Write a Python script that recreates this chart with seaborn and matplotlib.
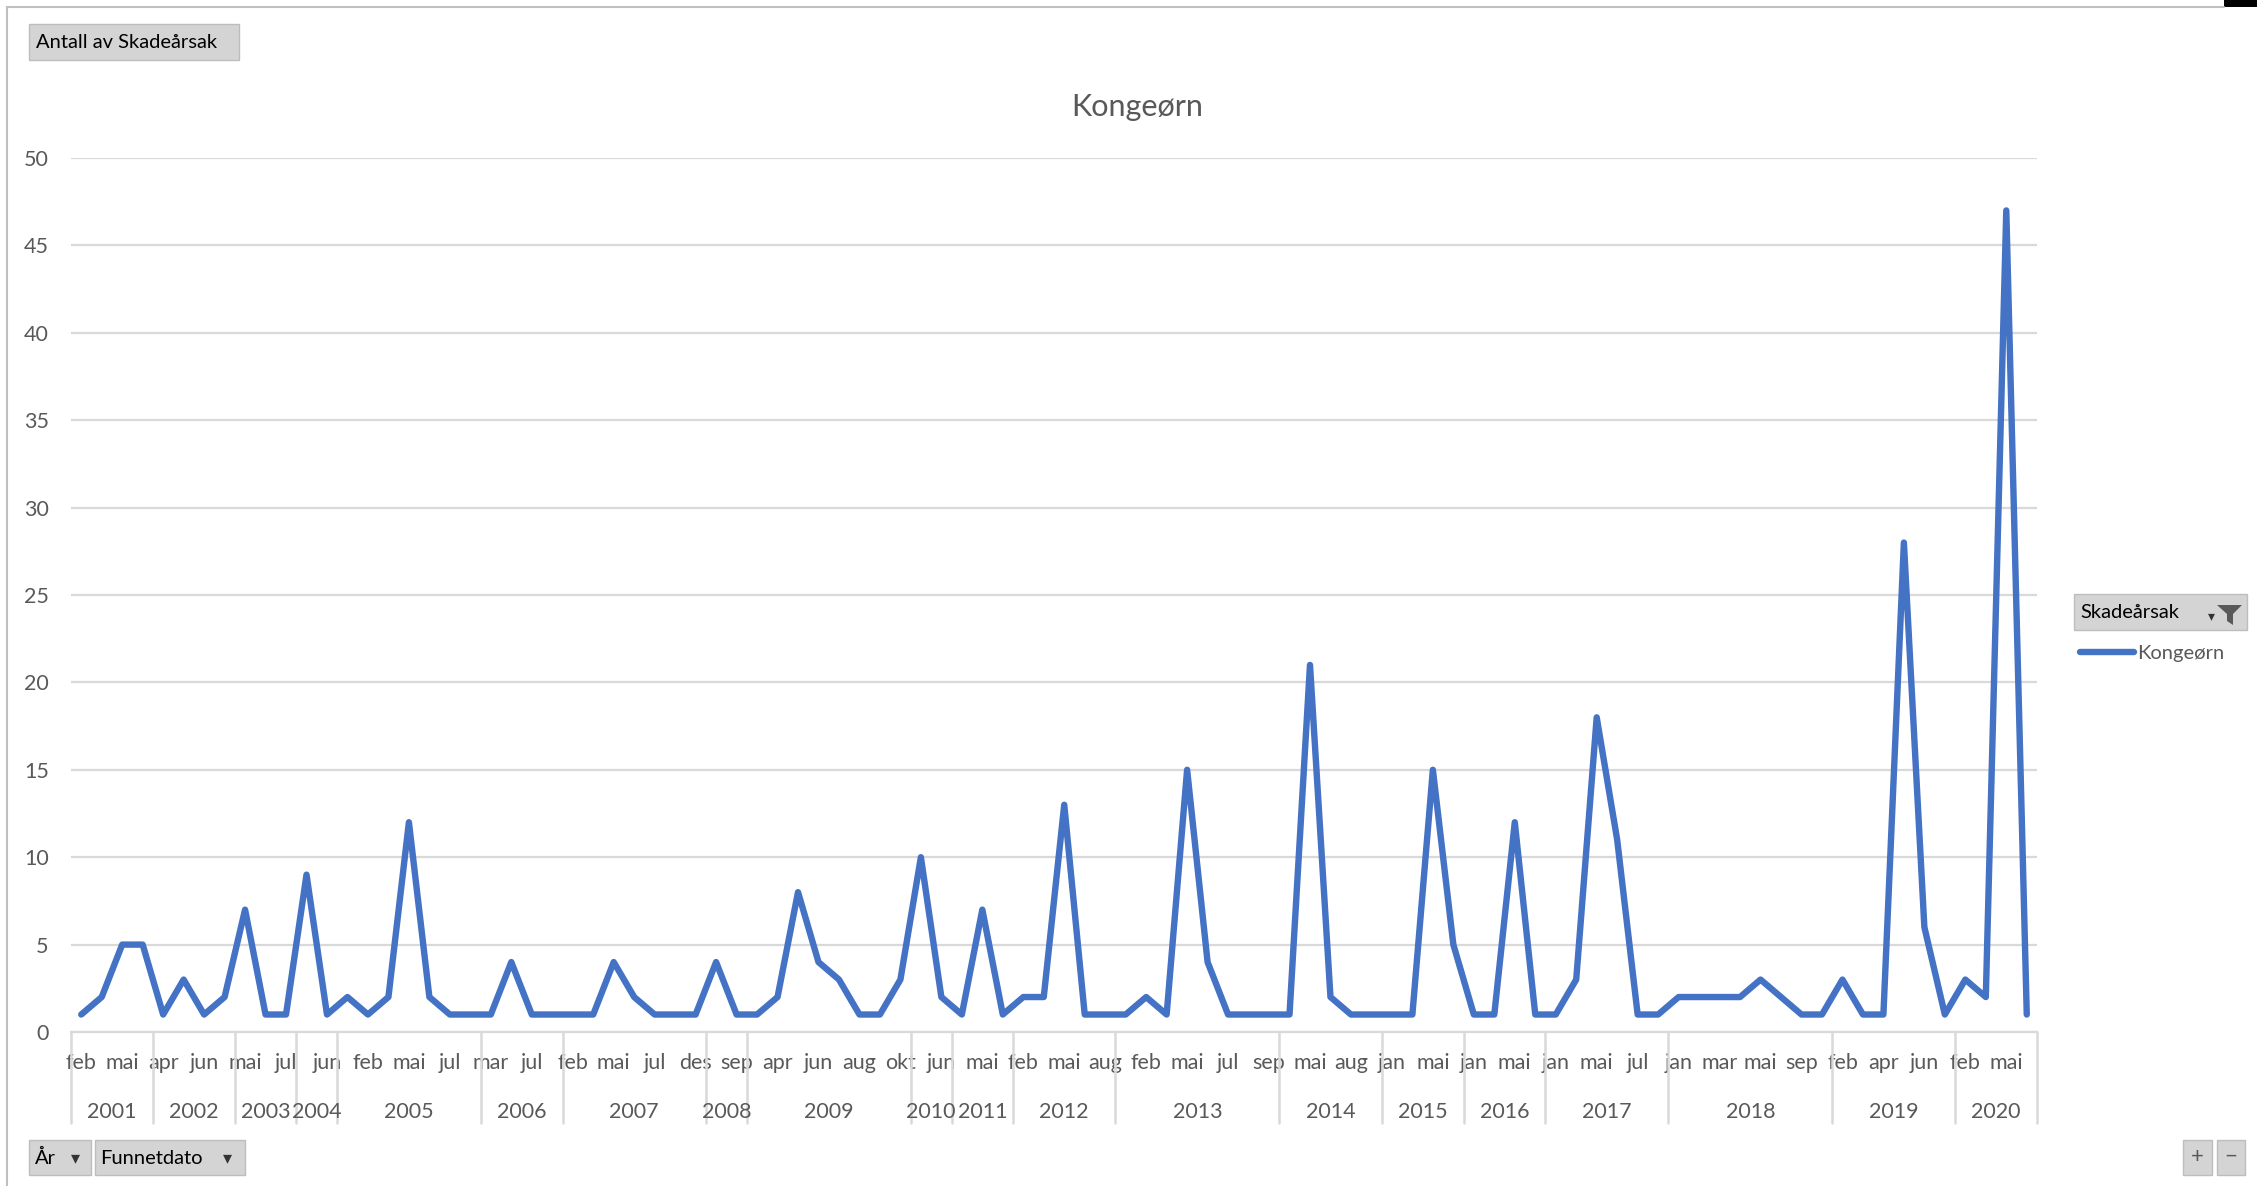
import numpy as np
import pandas as pd
import matplotlib
matplotlib.use("Agg")
import matplotlib.pyplot as plt
import matplotlib.transforms as mtransforms
from matplotlib.patches import Rectangle, Polygon
from matplotlib.lines import Line2D
import seaborn as sns

# ---------------- data ----------------
years = ["2001", "2002", "2003", "2004", "2005", "2006", "2007", "2008", "2009", "2010",
         "2011", "2012", "2013", "2014", "2015", "2016", "2017", "2018", "2019", "2020"]
year_sizes = [4, 4, 3, 2, 7, 4, 7, 2, 8, 2, 3, 5, 8, 5, 4, 4, 6, 8, 6, 4]
months = [
    "feb", "apr", "mai", "jul",                          # 2001
    "apr", "mai", "jun", "aug",                          # 2002
    "mai", "jun", "jul",                                 # 2003
    "mai", "jun",                                        # 2004
    "jan", "feb", "apr", "mai", "jun", "jul", "sep",     # 2005
    "mar", "mai", "jul", "okt",                          # 2006
    "feb", "apr", "mai", "jun", "jul", "okt", "des",     # 2007
    "apr", "sep",                                        # 2008
    "mar", "apr", "mai", "jun", "jul", "aug", "sep", "okt",  # 2009
    "mai", "jun",                                        # 2010
    "apr", "mai", "jun",                                 # 2011
    "feb", "apr", "mai", "jun", "aug",                   # 2012
    "jan", "feb", "apr", "mai", "jun", "jul", "aug", "sep",  # 2013
    "apr", "mai", "jun", "aug", "sep",                   # 2014
    "jan", "apr", "mai", "jun",                          # 2015
    "jan", "apr", "mai", "jun",                          # 2016
    "jan", "apr", "mai", "jun", "jul", "aug",            # 2017
    "jan", "feb", "mar", "apr", "mai", "jul", "sep", "okt",  # 2018
    "feb", "mar", "apr", "mai", "jun", "jul",            # 2019
    "feb", "apr", "mai", "jun",                          # 2020
]
counts = [
    1, 2, 5, 5,
    1, 3, 1, 2,
    7, 1, 1,
    9, 1,
    2, 1, 2, 12, 2, 1, 1,
    1, 4, 1, 1,
    1, 1, 4, 2, 1, 1, 1,
    4, 1,
    1, 2, 8, 4, 3, 1, 1, 3,
    10, 2,
    1, 7, 1,
    2, 2, 13, 1, 1,
    1, 2, 1, 15, 4, 1, 1, 1,
    1, 21, 2, 1, 1,
    1, 1, 15, 5,
    1, 1, 12, 1,
    1, 3, 18, 11, 1, 1,
    2, 2, 2, 2, 3, 2, 1, 1,
    3, 1, 1, 28, 6, 1,
    3, 2, 47, 1,
]
series_name = "Kongeørn"
title = "Kongeørn"
y_ticks = [0, 5, 10, 15, 20, 25, 30, 35, 40, 45, 50]

# ---------------- style ----------------
sns.set_theme(style="white")
plt.rcParams["font.family"] = ["Lato", "DejaVu Sans"]

W, H = 2257, 1186
fig = plt.figure(figsize=(W / 100, H / 100), dpi=100)
fig.patch.set_facecolor("white")

def fx(px):
    return px / W

def fy(py):
    return 1 - py / H

ax_left, ax_right, ax_top, ax_bottom = 71, 2037, 158, 1032
ax = fig.add_axes([fx(ax_left), fy(ax_bottom), (ax_right - ax_left) / W, (ax_bottom - ax_top) / H])

n = len(counts)
df = pd.DataFrame({"pos": np.arange(n), "Antall": counts})
sns.lineplot(data=df, x="pos", y="Antall", color="#4472C4", linewidth=4.6,
             label=series_name, ax=ax, solid_joinstyle="round", solid_capstyle="round")

grid_col = "#D9D9D9"
text_col = "#595959"
ax.set_xlim(-0.5, n - 0.5)
ax.set_ylim(0, 50)
ax.set_yticks(y_ticks)
ax.yaxis.grid(True, color=grid_col, linewidth=1.6)
ax.xaxis.grid(False)
for side in ["top", "right", "left"]:
    ax.spines[side].set_visible(False)
ax.spines["bottom"].set_color(grid_col)
ax.spines["bottom"].set_linewidth(1.6)
ax.set_xlabel("")
ax.set_ylabel("")
ax.tick_params(axis="y", length=0, pad=16, labelsize=15.5, labelcolor=text_col)

# month labels every second category
tick_pos = list(range(0, n, 2))
ax.set_xticks(tick_pos)
ax.set_xticklabels([months[i] for i in tick_pos])
ax.tick_params(axis="x", length=0, pad=15, labelsize=15.5, labelcolor=text_col)

# year labels and separators
blend = mtransforms.blended_transform_factory(ax.transData, ax.transAxes)
bounds = np.concatenate([[0], np.cumsum(year_sizes)]) - 0.5
for b in bounds:
    ax.plot([b, b], [0, -0.104], transform=blend, clip_on=False, color=grid_col, linewidth=1.8)
for i, yr in enumerate(years):
    c = (bounds[i] + bounds[i + 1]) / 2
    ax.text(c, -0.0915, yr, transform=blend, ha="center", va="center", fontsize=15.5, color=text_col)

# legend
leg = ax.legend(loc="center left", bbox_to_anchor=(fx(2080), fy(653)), bbox_transform=fig.transFigure,
                frameon=False, handlelength=2.7, handletextpad=0.15, borderpad=0, borderaxespad=0,
                fontsize=14.5)
for t in leg.get_texts():
    t.set_color(text_col)

# title
fig.text(fx(1137), fy(107), title, ha="center", va="center", fontsize=22, color=text_col)

# ---------------- pivot buttons ----------------
def button(x0, y0, x1, y1):
    fig.add_artist(Rectangle((fx(x0), fy(y1)), (x1 - x0) / W, (y1 - y0) / H, transform=fig.transFigure,
                             facecolor="#D4D4D4", edgecolor="#BDBDBD", linewidth=1.0))

button(29, 24, 239, 60)
fig.text(fx(36), fy(43), "Antall av Skadeårsak", ha="left", va="center", fontsize=14.5, color="black")

button(29, 1140, 91, 1175)
fig.text(fx(35), fy(1158), "År", ha="left", va="center", fontsize=14.5, color="black")
fig.text(fx(75), fy(1158), "▾", ha="center", va="center", fontsize=13, color="#333333",
         family=["DejaVu Sans"])
button(95, 1140, 245, 1175)
fig.text(fx(100), fy(1158), "Funnetdato", ha="left", va="center", fontsize=14.5, color="black")
fig.text(fx(227), fy(1158), "▾", ha="center", va="center", fontsize=13, color="#333333",
         family=["DejaVu Sans"])

button(2074, 594, 2247, 630)
fig.text(fx(2080), fy(612), "Skadeårsak", ha="left", va="center", fontsize=14.5, color="black")
fig.text(fx(2211), fy(616), "▾", ha="center", va="center", fontsize=10, color="#333333",
         family=["DejaVu Sans"])
funnel = [(2217, 605), (2242, 605), (2233, 614), (2233, 625), (2227, 621), (2227, 614)]
fig.add_artist(Polygon([(fx(a), fy(b)) for a, b in funnel], closed=True, transform=fig.transFigure,
                       facecolor="#595959", edgecolor="none"))

button(2183, 1140, 2212, 1175)
fig.text(fx(2197), fy(1157), "+", ha="center", va="center", fontsize=16, color="#595959")
button(2217, 1140, 2245, 1175)
fig.text(fx(2231), fy(1157), "−", ha="center", va="center", fontsize=16, color="#595959")

# chart frame
fig.add_artist(Line2D([fx(7), fx(2224)], [fy(7), fy(7)], transform=fig.transFigure, color="#BFBFBF", linewidth=1.5))
fig.add_artist(Line2D([fx(7), fx(7)], [fy(7), fy(1186)], transform=fig.transFigure, color="#BFBFBF", linewidth=1.5))
fig.add_artist(Rectangle((fx(2224), fy(7)), 33 / W, 7 / H, transform=fig.transFigure,
                         facecolor="black", edgecolor="none"))

fig.savefig("out.png", dpi=100)
